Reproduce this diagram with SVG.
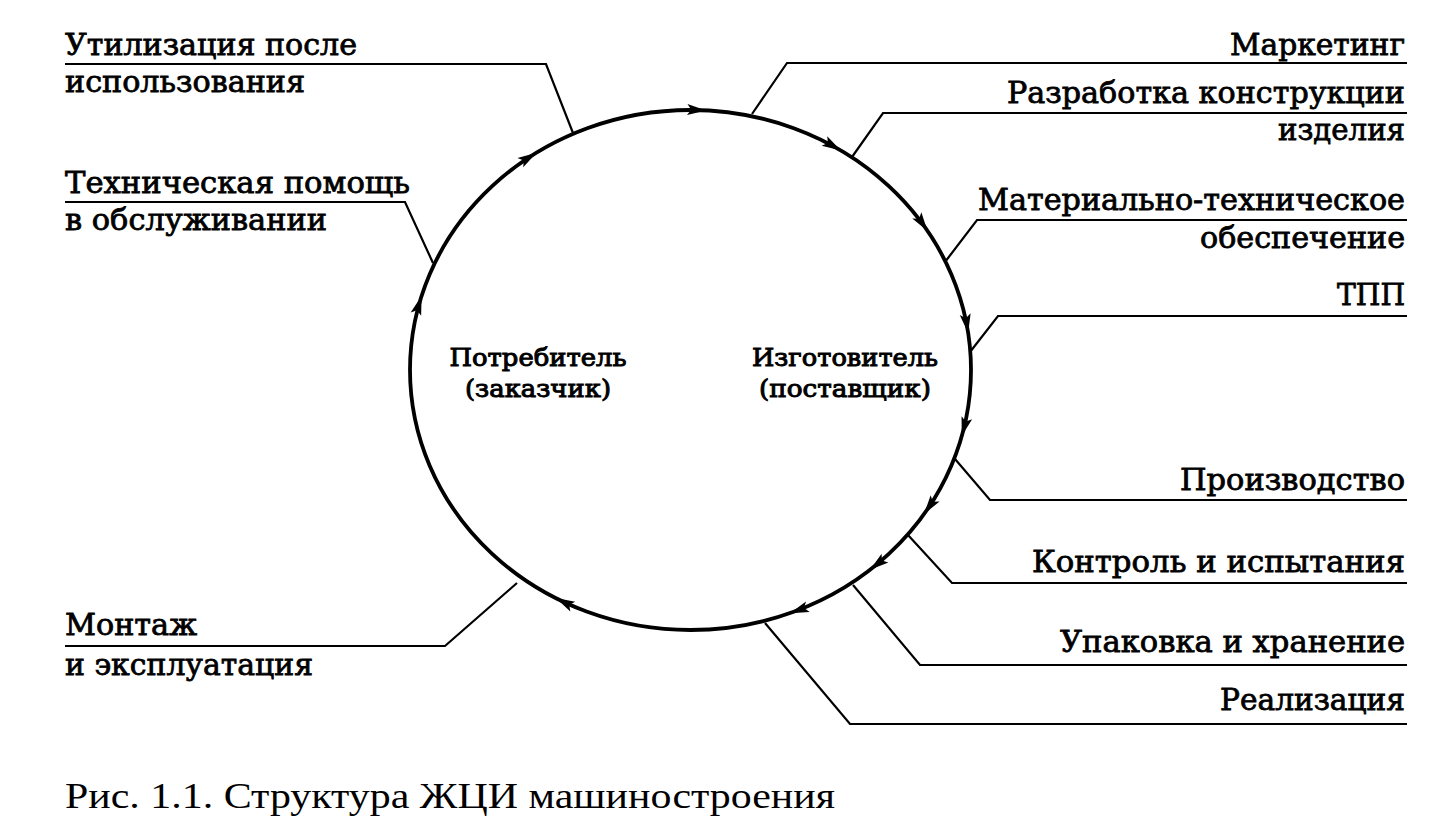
<svg xmlns="http://www.w3.org/2000/svg" width="1451" height="828" viewBox="0 0 1451 828">
<style>
.lbl{font-family:"DejaVu Serif","Liberation Serif",serif;font-size:30px;fill:#000;stroke:#000;stroke-width:0.8}
.ctr{font-family:"DejaVu Serif","Liberation Serif",serif;font-size:25px;fill:#000;stroke:#000;stroke-width:1;text-anchor:middle}
.cap{font-family:"Liberation Serif","Times New Roman",serif;font-size:35px;fill:#000}
.r{text-anchor:end}
.ln{fill:none;stroke:#000;stroke-width:2.2;stroke-linejoin:miter}
.cyc{fill:none;stroke:#000;stroke-width:3.8}
.ah{fill:#000}
</style>
<defs>
<path id="arr" d="M1,0 L-18,-5.5 L-14,0 L-18,5.5 Z"/>
</defs>
<rect width="1451" height="828" fill="#fff"/>
<g id="cycle">
<ellipse class="cyc" cx="690.5" cy="370" rx="280.5" ry="260"/>
<g class="ah">
<use href="#arr" transform="translate(535.7,153.2) rotate(-31.5)"/>
<use href="#arr" transform="translate(705.2,110.4) rotate(2.8)"/>
<use href="#arr" transform="translate(840,150) rotate(30.3)"/>
<use href="#arr" transform="translate(927,230.3) rotate(55.5)"/>
<use href="#arr" transform="translate(968,332) rotate(81)"/>
<use href="#arr" transform="translate(962,435.1) rotate(105.6)"/>
<use href="#arr" transform="translate(924.7,513.1) rotate(125.4)"/>
<use href="#arr" transform="translate(870.8,569.2) rotate(142.1)"/>
<use href="#arr" transform="translate(790.9,612.8) rotate(160.4)"/>
<use href="#arr" transform="translate(556.7,598.5) rotate(206.7)"/>
<use href="#arr" transform="translate(421.3,297) rotate(-72.5)"/>
</g>
</g>
<g id="connectors">
<polyline class="ln" points="573,133 546,64 65,64"/>
<polyline class="ln" points="433,263 405,202 65,202"/>
<polyline class="ln" points="517,583 445,646 65,646"/>
<polyline class="ln" points="752,114 787,63 1407,63"/>
<polyline class="ln" points="852,157 883,113 1407,113"/>
<polyline class="ln" points="945,262 977,220 1407,220"/>
<polyline class="ln" points="970,352 998,316 1407,316"/>
<polyline class="ln" points="955,459 990,500 1407,500"/>
<polyline class="ln" points="908,535 952,583 1407,583"/>
<polyline class="ln" points="853,585 920,665 1407,665"/>
<polyline class="ln" points="765,623 850,724 1407,724"/>
</g>
<g id="consumer">
<text class="ctr" x="538" y="366" textLength="177" lengthAdjust="spacingAndGlyphs">Потребитель</text>
<text class="ctr" x="538" y="397" textLength="146" lengthAdjust="spacingAndGlyphs">(заказчик)</text>
</g>
<g id="manufacturer">
<text class="ctr" x="845" y="366" textLength="186" lengthAdjust="spacingAndGlyphs">Изготовитель</text>
<text class="ctr" x="845" y="397" textLength="172" lengthAdjust="spacingAndGlyphs">(поставщик)</text>
</g>
<g id="n-utilization">
<text class="lbl" x="65" y="55" textLength="292" lengthAdjust="spacingAndGlyphs">Утилизация после</text>
<text class="lbl" x="65" y="92" textLength="240" lengthAdjust="spacingAndGlyphs">использования</text>
</g>
<g id="n-support">
<text class="lbl" x="65" y="193" textLength="345" lengthAdjust="spacingAndGlyphs">Техническая помощь</text>
<text class="lbl" x="65" y="230" textLength="262" lengthAdjust="spacingAndGlyphs">в обслуживании</text>
</g>
<g id="n-mounting">
<text class="lbl" x="65" y="635" textLength="132" lengthAdjust="spacingAndGlyphs">Монтаж</text>
<text class="lbl" x="65" y="675" textLength="248" lengthAdjust="spacingAndGlyphs">и эксплуатация</text>
</g>
<g id="n-marketing">
<text class="lbl r" x="1405" y="55" textLength="175" lengthAdjust="spacingAndGlyphs">Маркетинг</text>
</g>
<g id="n-design">
<text class="lbl r" x="1405" y="103" textLength="398" lengthAdjust="spacingAndGlyphs">Разработка конструкции</text>
<text class="lbl r" x="1405" y="140" textLength="127" lengthAdjust="spacingAndGlyphs">изделия</text>
</g>
<g id="n-supply">
<text class="lbl r" x="1405" y="210" textLength="427" lengthAdjust="spacingAndGlyphs">Материально-техническое</text>
<text class="lbl r" x="1405" y="248" textLength="205" lengthAdjust="spacingAndGlyphs">обеспечение</text>
</g>
<g id="n-tpp">
<text class="lbl r" x="1405" y="305" textLength="68" lengthAdjust="spacingAndGlyphs">ТПП</text>
</g>
<g id="n-production">
<text class="lbl r" x="1405" y="490" textLength="225" lengthAdjust="spacingAndGlyphs">Производство</text>
</g>
<g id="n-control">
<text class="lbl r" x="1405" y="572" textLength="373" lengthAdjust="spacingAndGlyphs">Контроль и испытания</text>
</g>
<g id="n-packing">
<text class="lbl r" x="1405" y="652" textLength="345" lengthAdjust="spacingAndGlyphs">Упаковка и хранение</text>
</g>
<g id="n-sales">
<text class="lbl r" x="1405" y="710" textLength="185" lengthAdjust="spacingAndGlyphs">Реализация</text>
</g>
<g id="caption">
<text class="cap" x="65" y="808" textLength="770" lengthAdjust="spacingAndGlyphs">Рис. 1.1. Структура ЖЦИ машиностроения</text>
</g>
</svg>
